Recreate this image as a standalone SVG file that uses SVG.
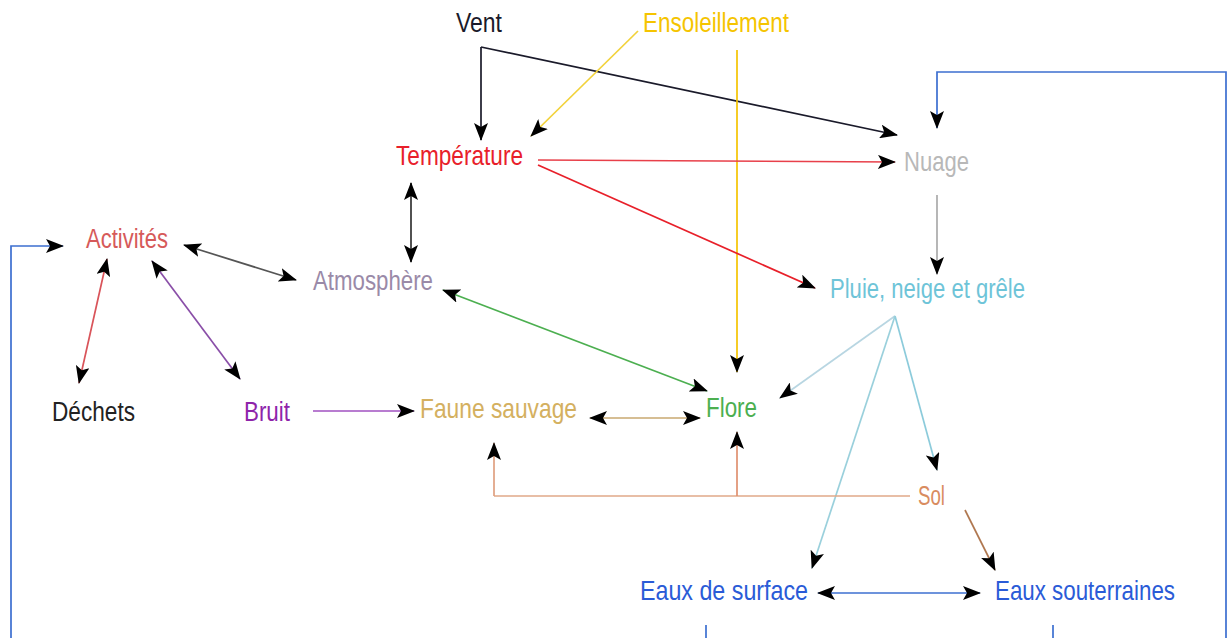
<svg xmlns="http://www.w3.org/2000/svg" width="1232" height="638" viewBox="0 0 1232 638">
<defs>
<marker id="ah" viewBox="0 0 18 14" refX="17" refY="7" markerWidth="18" markerHeight="14" markerUnits="userSpaceOnUse" orient="auto-start-reverse">
<path d="M0,0 L18,7 L0,14 L4,7 z" fill="#000"/>
</marker>
</defs>
<style>
text{font-family:"Liberation Sans",Arial,sans-serif;font-size:27.5px}
.c{fill:none;stroke-width:1.7}
.a{marker-end:url(#ah)}
.b{marker-start:url(#ah);marker-end:url(#ah)}
</style>
<rect width="1232" height="638" fill="#fff"/>
<g id="connectors">
<path class="c a" d="M481,47 V140" stroke="#1a1a2a"/>
<path class="c a" d="M481,47 L897,135" stroke="#1a1a2a"/>
<path class="c a" d="M638,31 L531,136" stroke="#f2d23a"/>
<path class="c a" d="M737,50 V372" stroke="#f5c400"/>
<path class="c a" d="M538,160 L895,162" stroke="#e8404a"/>
<path class="c a" d="M538,165 L815,288" stroke="#e8202a"/>
<path class="c b" d="M411,183 V262" stroke="#333"/>
<path class="c a" d="M937,195 V274" stroke="#aaa"/>
<path class="c a" d="M1226,638 V72 H937 V128" stroke="#3c6fd0"/>
<path class="c b" d="M184,245 L296,280" stroke="#555"/>
<path class="c b" d="M107,259 L79,383" stroke="#d9545a"/>
<path class="c b" d="M152,261 L240,379" stroke="#8a4fa8"/>
<path class="c a" d="M313,411 H414" stroke="#a050c0"/>
<path class="c b" d="M443,290 L707,391" stroke="#4caf50"/>
<path class="c b" d="M590,418 H700" stroke="#c8a870"/>
<path class="c a" d="M895,316 L780,398" stroke="#b8d6e2"/>
<path class="c a" d="M895,316 L937,470" stroke="#8ccbdb"/>
<path class="c a" d="M895,316 L812,568" stroke="#9ad0dc"/>
<path class="c" d="M910,496 H494" stroke="#e0a888"/>
<path class="c a" d="M494,496 V443" stroke="#e0a080"/>
<path class="c a" d="M737,496 V432" stroke="#e09070"/>
<path class="c a" d="M965,510 L995,570" stroke="#b07850"/>
<path class="c b" d="M818,593 H980" stroke="#3c6fd0"/>
<path class="c" d="M706,625 V638" stroke="#3c6fd0"/>
<path class="c" d="M1053,625 V638" stroke="#3c6fd0"/>
<path class="c a" d="M11,638 V246 H63" stroke="#3c6fd0"/>
</g>
<g id="vent"><text x="456" y="32" textLength="46" lengthAdjust="spacingAndGlyphs" fill="#1a1a2a">Vent</text></g>
<g id="ensoleillement"><text x="643" y="32" textLength="146" lengthAdjust="spacingAndGlyphs" fill="#f5c400">Ensoleillement</text></g>
<g id="temperature"><text x="396" y="165" textLength="127" lengthAdjust="spacingAndGlyphs" fill="#e8202a">Température</text></g>
<g id="nuage"><text x="904" y="171" textLength="65" lengthAdjust="spacingAndGlyphs" fill="#b8b8b8">Nuage</text></g>
<g id="activites"><text x="86" y="248" textLength="82" lengthAdjust="spacingAndGlyphs" fill="#d65a5a">Activités</text></g>
<g id="atmosphere"><text x="313" y="290" textLength="120" lengthAdjust="spacingAndGlyphs" fill="#9a8aa8">Atmosphère</text></g>
<g id="pluie"><text x="830" y="298" textLength="195" lengthAdjust="spacingAndGlyphs" fill="#6ec4d8">Pluie, neige et grêle</text></g>
<g id="dechets"><text x="52" y="421" textLength="83" lengthAdjust="spacingAndGlyphs" fill="#222">Déchets</text></g>
<g id="bruit"><text x="244" y="421" textLength="46" lengthAdjust="spacingAndGlyphs" fill="#8e24aa">Bruit</text></g>
<g id="faune"><text x="420" y="418" textLength="157" lengthAdjust="spacingAndGlyphs" fill="#d4b060">Faune sauvage</text></g>
<g id="flore"><text x="706" y="417" textLength="51" lengthAdjust="spacingAndGlyphs" fill="#4caf50">Flore</text></g>
<g id="sol"><text x="918" y="505" textLength="27" lengthAdjust="spacingAndGlyphs" fill="#d98c5f">Sol</text></g>
<g id="eaux-surface"><text x="640" y="600" textLength="168" lengthAdjust="spacingAndGlyphs" fill="#2a5bd7">Eaux de surface</text></g>
<g id="eaux-souterraines"><text x="995" y="600" textLength="180" lengthAdjust="spacingAndGlyphs" fill="#2a5bd7">Eaux souterraines</text></g>
</svg>
